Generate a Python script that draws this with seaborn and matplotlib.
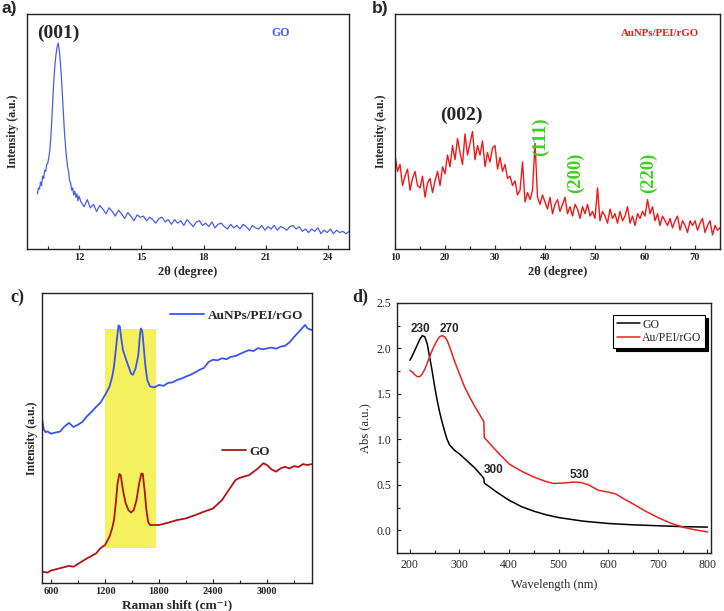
import numpy as np
import pandas as pd
import matplotlib
matplotlib.use("Agg")
import matplotlib.pyplot as plt
import seaborn as sns
from matplotlib.patches import Rectangle
from matplotlib.lines import Line2D
from matplotlib.ticker import MultipleLocator

# ---------------- data ----------------
# (a) XRD of GO, normalised intensity
a_x_peak = np.round(np.arange(10.0, 12.001, 0.05), 2)
a_y_peak = [0.235, 0.26, 0.255, 0.285, 0.27, 0.31, 0.30, 0.335, 0.33, 0.36,
            0.365, 0.39, 0.42, 0.48, 0.56, 0.65, 0.73, 0.79, 0.83, 0.86,
            0.877, 0.85, 0.80, 0.74, 0.66, 0.58, 0.50, 0.44, 0.39, 0.35,
            0.33, 0.29, 0.28, 0.25, 0.26, 0.23, 0.245, 0.22, 0.235, 0.205,
            0.225]
a_x_tail = np.round(np.arange(12.1, 25.001, 0.15), 2)
a_y_tail = [0.20, 0.18, 0.21, 0.175, 0.19, 0.16, 0.185, 0.17, 0.15, 0.175,
            0.16, 0.14, 0.165, 0.15, 0.13, 0.155, 0.14, 0.12, 0.145, 0.135,
            0.14, 0.12, 0.135, 0.125, 0.11, 0.13, 0.135, 0.115, 0.125, 0.105,
            0.125, 0.11, 0.12, 0.10, 0.125, 0.11, 0.095, 0.115, 0.12, 0.10,
            0.11, 0.095, 0.115, 0.09, 0.105, 0.11, 0.095, 0.085, 0.105, 0.09,
            0.10, 0.085, 0.105, 0.095, 0.08, 0.10, 0.09, 0.085, 0.10, 0.08,
            0.095, 0.085, 0.10, 0.08, 0.095, 0.09, 0.08, 0.095, 0.10, 0.085,
            0.095, 0.075, 0.085, 0.07, 0.085, 0.075, 0.09, 0.065, 0.08, 0.07,
            0.085, 0.065, 0.08, 0.07, 0.075, 0.065, 0.075]
a_ticks = [12, 15, 18, 21, 24]

# (b) XRD of AuNPs/PEI/rGO
b_x = np.round(np.arange(10.0, 75.001, 0.5), 1)
b_y = [0.40, 0.33, 0.36, 0.27, 0.31, 0.34, 0.25, 0.30, 0.33, 0.27,
       0.26, 0.31, 0.22, 0.28, 0.30, 0.24, 0.29, 0.33, 0.27, 0.35,
       0.32, 0.40, 0.35, 0.44, 0.38, 0.47, 0.41, 0.36, 0.49, 0.40,
       0.45, 0.50, 0.38, 0.44, 0.40, 0.46, 0.35, 0.41, 0.37, 0.43,
       0.44, 0.34, 0.39, 0.33, 0.36, 0.30, 0.31, 0.27, 0.29, 0.23,
       0.25, 0.37, 0.20, 0.24, 0.21, 0.25, 0.45, 0.22, 0.19, 0.23,
       0.20, 0.17, 0.22, 0.15, 0.19, 0.21, 0.16, 0.19, 0.22, 0.15,
       0.18, 0.14, 0.19, 0.17, 0.13, 0.18, 0.15, 0.19, 0.14, 0.16,
       0.13, 0.26, 0.12, 0.16, 0.14, 0.11, 0.17, 0.13, 0.15, 0.11,
       0.16, 0.12, 0.14, 0.18, 0.11, 0.14, 0.10, 0.15, 0.13, 0.16,
       0.14, 0.21, 0.15, 0.18, 0.12, 0.15, 0.10, 0.14, 0.12, 0.10,
       0.13, 0.09, 0.12, 0.14, 0.08, 0.12, 0.10, 0.07, 0.12, 0.10,
       0.12, 0.08, 0.11, 0.13, 0.07, 0.10, 0.12, 0.06, 0.10, 0.08,
       0.09]
b_ticks = [10, 20, 30, 40, 50, 60, 70]
b_peaks = ["(111)", "(200)", "(220)"]
b_peak_x = [39.0, 46.0, 60.6]
b_peak_y = [0.478, 0.326, 0.326]

# (c) Raman spectra
c_x_au = [500, 520, 540, 560, 600, 650, 700, 750, 800, 850, 900, 950, 1000,
          1050, 1100, 1150, 1200, 1250, 1280, 1300, 1320, 1340, 1350, 1365,
          1380, 1400, 1430, 1460, 1490, 1510, 1540, 1570, 1590, 1600, 1615,
          1630, 1650, 1670, 1700, 1750, 1800, 1850, 1900, 1950, 2000, 2050,
          2100, 2150, 2200, 2250, 2300, 2350, 2400, 2450, 2500, 2550, 2600,
          2650, 2700, 2750, 2800, 2850, 2900, 2950, 3000, 3050, 3100, 3150,
          3200, 3250, 3300, 3350, 3400, 3425, 3450, 3500]
c_y_au = [0.568, 0.530, 0.520, 0.523, 0.515, 0.519, 0.522, 0.540, 0.552, 0.538,
          0.546, 0.556, 0.575, 0.590, 0.607, 0.622, 0.648, 0.677, 0.711, 0.746,
          0.803, 0.861, 0.888, 0.884, 0.845, 0.803, 0.775, 0.748, 0.722, 0.718,
          0.740, 0.786, 0.861, 0.878, 0.866, 0.815, 0.746, 0.700, 0.678, 0.675,
          0.683, 0.680, 0.690, 0.692, 0.700, 0.705, 0.712, 0.718, 0.726, 0.735,
          0.742, 0.762, 0.770, 0.768, 0.775, 0.772, 0.780, 0.783, 0.790, 0.797,
          0.803, 0.800, 0.810, 0.806, 0.809, 0.812, 0.808, 0.815, 0.818, 0.830,
          0.848, 0.865, 0.882, 0.890, 0.878, 0.872]
c_x_go = [500, 560, 600, 700, 800, 850, 900, 1000, 1100, 1150, 1200, 1250,
          1280, 1300, 1320, 1340, 1360, 1375, 1400, 1430, 1460, 1490, 1520,
          1550, 1580, 1605, 1620, 1640, 1660, 1680, 1700, 1750, 1800, 1900,
          2000, 2100, 2200, 2300, 2400, 2500, 2550, 2600, 2650, 2700, 2800,
          2900, 2960, 3000, 3050, 3100, 3150, 3200, 3250, 3300, 3350, 3400,
          3450, 3500]
c_y_go = [0.039, 0.036, 0.043, 0.051, 0.059, 0.056, 0.066, 0.085, 0.102, 0.120,
          0.131, 0.160, 0.189, 0.217, 0.275, 0.344, 0.376, 0.372, 0.320, 0.275,
          0.252, 0.243, 0.252, 0.286, 0.344, 0.378, 0.376, 0.320, 0.252, 0.211,
          0.200, 0.200, 0.200, 0.208, 0.217, 0.223, 0.234, 0.246, 0.257, 0.286,
          0.309, 0.332, 0.355, 0.363, 0.372, 0.395, 0.413, 0.407, 0.392, 0.384,
          0.395, 0.401, 0.395, 0.403, 0.400, 0.410, 0.407, 0.410]
c_ticks = [600, 1200, 1800, 2400, 3000]
c_minor = [900, 1500, 2100, 2700, 3300]
c_band_x = [1200, 1770]
c_band_y = [0.12, 0.875]

# (d) UV-vis absorbance
d_x_go = [200, 205, 210, 215, 220, 225, 230, 235, 240, 245, 250, 255, 260,
          265, 270, 275, 280, 285, 290, 300, 310, 320, 330, 340, 345, 349,
          350, 360, 375, 400, 425, 450, 475, 500, 550, 600, 650, 700, 750, 800]
d_y_go = [1.87, 1.92, 1.98, 2.04, 2.10, 2.14, 2.13, 2.05, 1.90, 1.75, 1.58,
          1.43, 1.30, 1.19, 1.09, 1.00, 0.94, 0.91, 0.88, 0.84, 0.79, 0.74,
          0.69, 0.63, 0.60, 0.57, 0.52, 0.48, 0.42, 0.33, 0.26, 0.21, 0.17,
          0.14, 0.10, 0.075, 0.06, 0.05, 0.04, 0.035]
d_x_au = [200, 205, 210, 215, 220, 225, 230, 235, 240, 245, 250, 255, 260,
          265, 270, 275, 280, 285, 290, 300, 310, 320, 330, 340, 345, 349,
          350, 360, 375, 400, 425, 450, 475, 490, 510, 530, 545, 560, 580,
          600, 615, 630, 650, 675, 700, 725, 750, 775, 800]
d_y_au = [1.76, 1.74, 1.71, 1.69, 1.69, 1.72, 1.77, 1.84, 1.91, 1.98, 2.04,
          2.09, 2.13, 2.14, 2.13, 2.09, 2.02, 1.94, 1.86, 1.72, 1.58, 1.47,
          1.37, 1.28, 1.23, 1.20, 1.02, 0.96, 0.87, 0.73, 0.65, 0.585, 0.535,
          0.515, 0.52, 0.53, 0.525, 0.50, 0.44, 0.42, 0.40, 0.35, 0.29, 0.21,
          0.14, 0.08, 0.035, 0.005, -0.018]
d_labels = ["230", "270", "300", "530"]
d_label_x = [222, 279, 368, 541]
d_label_y = [2.21, 2.21, 0.667, 0.605]

# ---------------- style ----------------
sns.set_theme(style="ticks")
plt.rcParams["font.family"] = ["Liberation Serif", "DejaVu Serif"]
plt.rcParams["axes.linewidth"] = 1.0
plt.rcParams["axes.edgecolor"] = "#222222"

SERIF = ["Liberation Serif", "DejaVu Serif"]
bold_tick = dict(fontweight="bold", fontsize=7.5, family=SERIF)
bold_lab = dict(fontweight="bold", fontsize=9, family=SERIF)

fig = plt.figure(figsize=(7.24, 6.11), dpi=100)
axa = fig.add_axes([0.0373, 0.5925, 0.4448, 0.3846])
axb = fig.add_axes([0.5456, 0.5925, 0.4489, 0.3846])
axc = fig.add_axes([0.0580, 0.0458, 0.3729, 0.4746])
axd = fig.add_axes([0.5483, 0.0949, 0.4337, 0.4092])

def frame(ax):
    for s in ax.spines.values():
        s.set_visible(True)
        s.set_color("#222222")
        s.set_linewidth(1.0)
    ax.tick_params(which="both", direction="in", color="#222222",
                   top=False, right=False, left=False)
    ax.tick_params(which="major", length=3, width=0.8, pad=3)
    ax.tick_params(which="minor", length=2, width=0.8)

# ---- (a)
blue_a = "#4a5cf0"
sns.lineplot(x=np.concatenate([a_x_peak, a_x_tail]),
             y=np.array(a_y_peak + a_y_tail), ax=axa, color=blue_a,
             lw=0.9, estimator=None)
axa.set_xlim(9.5, 25)
axa.set_ylim(0, 1)
frame(axa)
axa.set_yticks([])
axa.set_xticks(a_ticks, labels=[str(t) for t in a_ticks], **bold_tick)
axa.xaxis.set_minor_locator(MultipleLocator(1.5))
axa.set_xlabel("2θ (degree)", labelpad=3, **bold_lab)
axa.set_ylabel("Intensity (a.u.)", labelpad=6, fontsize=8.5,
               fontweight="bold", family=SERIF)
axa.text(11.0, 0.918, "(001)", ha="center", va="center", fontsize=14,
         fontweight="bold", family=SERIF, transform=axa.get_xaxis_transform())
axa.text(21.7, 0.918, "GO", ha="center", va="center", fontsize=8.5,
         fontweight="bold", family=SERIF, color=blue_a,
         transform=axa.get_xaxis_transform())

# ---- (b)
red_b = "#f01818"
green = "#3ed11f"
sns.lineplot(x=b_x, y=b_y, ax=axb, color=red_b, lw=1.0, estimator=None)
axb.set_xlim(10, 75)
axb.set_ylim(0, 1)
frame(axb)
axb.set_yticks([])
axb.set_xticks(b_ticks, labels=[str(t) for t in b_ticks], **bold_tick)
axb.xaxis.set_minor_locator(MultipleLocator(5))
axb.set_xlabel("2θ (degree)", labelpad=3, **bold_lab)
axb.set_ylabel("Intensity (a.u.)", labelpad=6, fontsize=8.5,
               fontweight="bold", family=SERIF)
axb.text(23.25, 0.57, "(002)", ha="center", va="center", fontsize=14,
         fontweight="bold", family=SERIF)
for lab, px, py in zip(b_peaks, b_peak_x, b_peak_y):
    axb.text(px, py, lab, ha="center", va="center", rotation=90,
             fontsize=13.5, fontweight="bold", family=SERIF, color=green)
axb.text(63.0, 0.918, "AuNPs/PEI/rGO", ha="center", va="center",
         fontsize=7.8, fontweight="bold", family=SERIF, color=red_b)

# ---- (c)
blue_c = "#3a56f0"
red_c = "#b01414"
axc.add_patch(Rectangle((c_band_x[0], c_band_y[0]),
                        c_band_x[1] - c_band_x[0], c_band_y[1] - c_band_y[0],
                        facecolor="#f5f15e", edgecolor="none", zorder=0))
sns.lineplot(x=c_x_au, y=c_y_au, ax=axc, color=blue_c, lw=1.3,
             estimator=None, zorder=2)
sns.lineplot(x=c_x_go, y=c_y_go, ax=axc, color=red_c, lw=1.3,
             estimator=None, zorder=2)
axc.set_xlim(500, 3500)
axc.set_ylim(0, 1)
frame(axc)
axc.set_yticks([])
axc.set_xticks(c_ticks, labels=[str(t) for t in c_ticks], **bold_tick)
axc.set_xticks(c_minor, minor=True)
axc.set_xlabel("Raman shift (cm⁻¹)", labelpad=2, fontsize=9.5,
               fontweight="bold", family=SERIF)
axc.set_ylabel("Intensity (a.u.)", labelpad=3, fontsize=8.5,
               fontweight="bold", family=SERIF)
legprop = {"family": "Liberation Serif", "weight": "bold", "size": 9.5}
leg1 = axc.legend(handles=[Line2D([], [], color=blue_c, lw=1.3)],
                  labels=["AuNPs/PEI/rGO"], loc="center left",
                  bbox_to_anchor=(0.474, 0.922), frameon=False, borderpad=0,
                  borderaxespad=0, handlelength=2.6, handletextpad=0.3,
                  prop=legprop)
axc.add_artist(leg1)
axc.legend(handles=[Line2D([], [], color=red_c, lw=1.3)], labels=["GO"],
           loc="center left", bbox_to_anchor=(0.667, 0.453), frameon=False,
           borderpad=0, borderaxespad=0, handlelength=1.85,
           handletextpad=0.2, prop=legprop)

# ---- (d)
red_d = "#f02020"
sns.lineplot(x=d_x_go, y=d_y_go, ax=axd, color="black", lw=1.1,
             estimator=None, label="GO")
sns.lineplot(x=d_x_au, y=d_y_au, ax=axd, color=red_d, lw=1.1,
             estimator=None, label="Au/PEI/rGO")
axd.set_xlim(174, 807)
axd.set_ylim(-0.25, 2.5)
for s in axd.spines.values():
    s.set_visible(True)
    s.set_color("#222222")
    s.set_linewidth(1.0)
axd.tick_params(which="both", direction="in", color="#222222",
                top=False, right=False)
axd.tick_params(which="major", length=3, width=0.8, pad=4, labelsize=8.5)
axd.tick_params(which="minor", length=2, width=0.8)
d_xt = [200, 300, 400, 500, 600, 700, 800]
d_yt = [0.0, 0.5, 1.0, 1.5, 2.0, 2.5]
axd.set_xticks(d_xt, labels=[str(t) for t in d_xt], family=SERIF, fontsize=8.5)
axd.set_yticks(d_yt, labels=[f"{t:.1f}" for t in d_yt], family=SERIF,
               fontsize=8.5)
axd.xaxis.set_minor_locator(MultipleLocator(50))
axd.yaxis.set_minor_locator(MultipleLocator(0.25))
axd.set_xlabel("Wavelength (nm)", fontsize=9, family=SERIF, labelpad=6)
axd.set_ylabel("Abs (a.u.)", fontsize=9, family=SERIF, labelpad=4)
for lab, px, py in zip(d_labels, d_label_x, d_label_y):
    axd.text(px, py, lab, ha="center", va="center", fontsize=8.5,
             fontweight="bold", family=["Liberation Sans", "DejaVu Sans"])
axd.legend(loc="upper right", bbox_to_anchor=(0.981, 0.952),
           borderaxespad=0, fancybox=False, frameon=True,
           shadow={"color": "black", "alpha": 1.0},
           edgecolor="black", framealpha=1, borderpad=0.3,
           labelspacing=0.15, handlelength=2.0, handletextpad=0.15,
           prop={"family": "Liberation Serif", "size": 8.5})
axd.get_legend().get_frame().set_linewidth(0.8)

# ---- panel letters
fig.text(2 / 724, 1 - 1 / 611, "a)", ha="left", va="top", fontsize=12.5,
         fontweight="bold", family=["Liberation Sans", "DejaVu Sans"])
fig.text(372 / 724, 1 - 1 / 611, "b)", ha="left", va="top", fontsize=12.5,
         fontweight="bold", family=["Liberation Sans", "DejaVu Sans"])
fig.text(10 / 724, 1 - 289 / 611, "c)", ha="left", va="top", fontsize=13,
         fontweight="bold", family=SERIF)
fig.text(352 / 724, 1 - 289 / 611, "d)", ha="left", va="top", fontsize=13,
         fontweight="bold", family=SERIF)

fig.savefig("out.png", dpi=100)
